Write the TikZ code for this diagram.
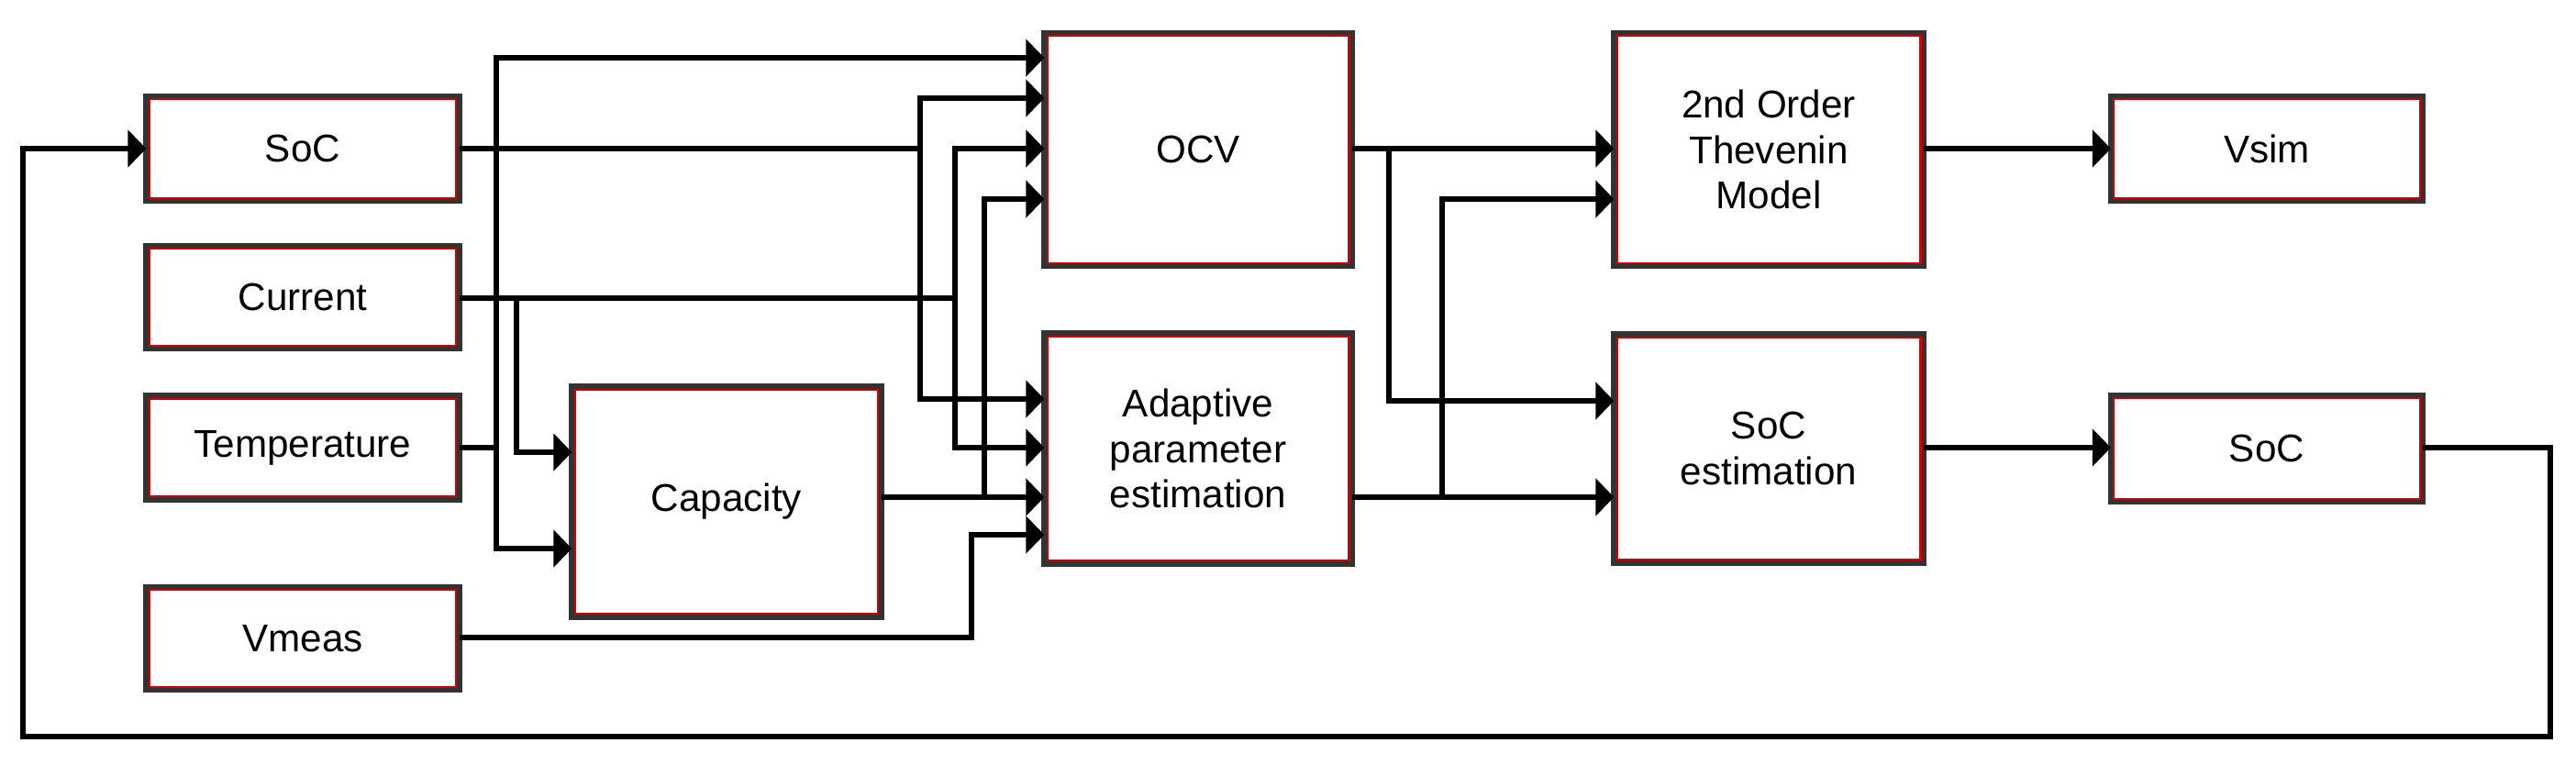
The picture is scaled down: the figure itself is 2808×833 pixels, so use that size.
\documentclass[tikz,border=0pt]{standalone}
\usepackage{fontspec}
\setmainfont{Liberation Sans}
\usetikzlibrary{arrows.meta}
\definecolor{bordergray}{HTML}{333333}
\definecolor{borderred}{HTML}{D40000}
\begin{document}
\begin{tikzpicture}[x=0.01cm,y=-0.01cm,
  blk/.style={draw=bordergray, line width=1.7pt, outer sep=0pt, fill=white, align=center,
              font=\fontsize{12}{14}\selectfont, inner sep=0pt},
  arr/.style={line width=1.9pt, -{Triangle[length=0.2cm,width=0.4cm]}},
  wire/.style={line width=1.9pt}]
\useasboundingbox (0,0) rectangle (2808,833);
\fill[white] (0,0) rectangle (2808,833);

% blocks
\node[blk, minimum width=3.41cm, minimum height=1.14cm] (socin)   at (330,162) {SoC};
\node[blk, minimum width=3.41cm, minimum height=1.12cm] (current) at (330,324) {Current};
\node[blk, minimum width=3.41cm, minimum height=1.13cm] (temp)    at (330,488) {Temperature};
\node[blk, minimum width=3.41cm, minimum height=1.12cm] (vmeas)   at (330,696) {Vmeas};
\node[blk, minimum width=3.37cm, minimum height=2.51cm] (cap)     at (792,547) {Capacity};
\node[blk, minimum width=3.35cm, minimum height=2.54cm] (ocv)     at (1306,163) {OCV};
\node[blk, minimum width=3.35cm, minimum height=2.51cm] (adapt)   at (1306,489) {Adaptive\\parameter\\estimation};
\node[blk, minimum width=3.37cm, minimum height=2.54cm] (thev)    at (1928,163) {2nd Order\\Thevenin\\Model};
\node[blk, minimum width=3.37cm, minimum height=2.49cm] (socest)  at (1928,489) {SoC\\estimation};
\node[blk, minimum width=3.40cm, minimum height=1.14cm] (vsim)    at (2471,162) {Vsim};
\node[blk, minimum width=3.40cm, minimum height=1.16cm] (socout)  at (2471,489) {SoC};

\foreach \n in {socin,current,temp,vmeas,cap,ocv,adapt,thev,socest,vsim,socout}
  \draw[borderred, line width=0.6pt] ([xshift=0.9pt,yshift=-0.9pt]\n.north west)
        rectangle ([xshift=-0.9pt,yshift=0.9pt]\n.south east);

% junction points
\coordinate (jt)  at (541,488);
\coordinate (jc1) at (563,325);
\coordinate (jc2) at (1041,325);
\coordinate (js)  at (1003,162);
\coordinate (jk)  at (1073,542);
\coordinate (jv)  at (1059,695);
\coordinate (jo)  at (1514,162);
\coordinate (ja)  at (1572,542);
\coordinate (fb1) at (2780,803);
\coordinate (fb2) at (25,803);

% temperature
\draw[wire] (temp.east) -- (jt);
\draw[arr] (jt) |- (ocv.west |- 0,63);
\draw[arr] (jt) |- (cap.west |- 0,598);
% current
\draw[wire] (current.east |- 0,325) -- (jc2);
\draw[arr] (jc1) |- (cap.west |- 0,493);
\draw[arr] (jc2) |- (ocv.west |- 0,162);
\draw[arr] (jc2) |- (adapt.west |- 0,488);
% soc
\draw[wire] (socin.east) -- (js);
\draw[arr] (js) |- (ocv.west |- 0,107);
\draw[arr] (js) |- (adapt.west |- 0,435);
% capacity
\draw[arr] (cap.east |- 0,542) -- (adapt.west |- 0,542);
\draw[arr] (jk) |- (ocv.west |- 0,217);
% vmeas
\draw[arr] (vmeas.east |- 0,695) -- (jv) |- (adapt.west |- 0,583);
% ocv out
\draw[arr] (ocv.east |- 0,162) -- (thev.west |- 0,162);
\draw[arr] (jo) |- (socest.west |- 0,437);
% adaptive out
\draw[arr] (adapt.east |- 0,542) -- (socest.west |- 0,542);
\draw[arr] (ja) |- (thev.west |- 0,217);
% outputs
\draw[arr] (thev.east |- 0,162) -- (vsim.west |- 0,162);
\draw[arr] (socest.east |- 0,488) -- (socout.west |- 0,488);
% feedback
\draw[arr] (socout.east |- 0,488) -| (fb1) -- (fb2) |- (socin.west);
\end{tikzpicture}
\end{document}
